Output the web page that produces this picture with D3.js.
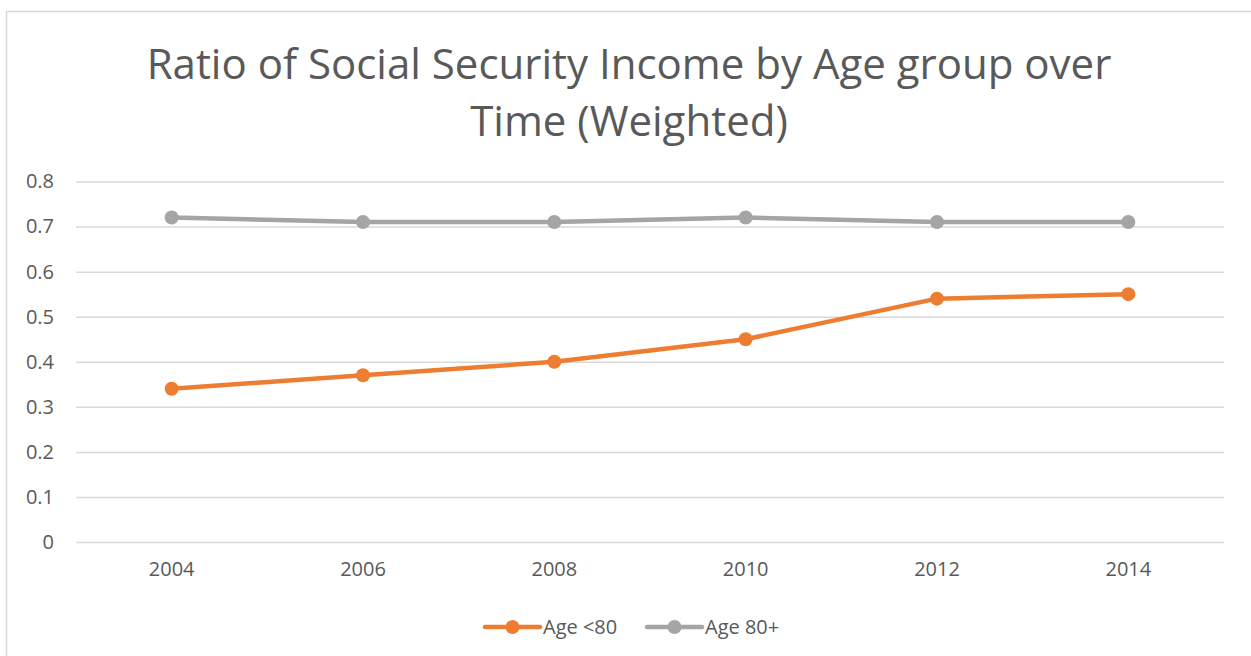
<!DOCTYPE html>
<html>
<head>
<meta charset="utf-8">
<script src="https://cdn.jsdelivr.net/npm/d3@7"></script>
<style>
  body { margin: 0; background: #fff; }
  text { font-family: "Open Sans", sans-serif; fill: #595959; }
</style>
</head>
<body>
<div id="chart-container"></div>
<script>
const years = ["2004", "2006", "2008", "2010", "2012", "2014"];
const under80 = [0.34, 0.37, 0.40, 0.45, 0.54, 0.55];
const over80 = [0.72, 0.71, 0.71, 0.72, 0.71, 0.71];
const yTicks = [0, 0.1, 0.2, 0.3, 0.4, 0.5, 0.6, 0.7, 0.8];
const seriesNames = ["Age <80", "Age 80+"];
const titleLines = ["Ratio of Social Security Income by Age group over", "Time (Weighted)"];

((() => {
  const width = 1251;
  const height = 656;
  const marginTop = 181.5;
  const marginBottom = 114;
  const marginLeft = 76;
  const marginRight = 27;
  const colors = ["#ED7D31", "#A5A5A5"];

  const series = [
    {name: seriesNames[0], values: under80, color: colors[0]},
    {name: seriesNames[1], values: over80, color: colors[1]}
  ];

  const x = d3.scaleBand()
    .domain(years)
    .range([marginLeft, width - marginRight]);

  const y = d3.scaleLinear()
    .domain([0, 0.8])
    .range([height - marginBottom, marginTop]);

  const svg = d3.create("svg")
    .attr("width", width)
    .attr("height", height)
    .attr("viewBox", [0, 0, width, height]);

  // chart border (only left and top are visible in the crop)
  svg.append("rect")
    .attr("x", 6.5).attr("y", 11.5)
    .attr("width", width + 20).attr("height", height + 20)
    .attr("fill", "none")
    .attr("stroke", "#d9d9d9")
    .attr("stroke-width", 1.5);

  // title
  const title = svg.append("text")
    .attr("text-anchor", "middle")
    .style("font-size", "42px");
  title.selectAll("tspan")
    .data(titleLines)
    .join("tspan")
    .attr("x", 629)
    .attr("y", (d, i) => 79 + i * 57)
    .text(d => d);

  // gridlines + y labels
  const yAxis = svg.append("g")
    .attr("transform", `translate(${marginLeft},0)`)
    .call(d3.axisLeft(y).tickValues(yTicks).tickFormat(d3.format("")).tickSize(-(width - marginLeft - marginRight)).tickPadding(22));
  yAxis.select(".domain").remove();
  yAxis.selectAll(".tick line").attr("stroke", "#d9d9d9").attr("stroke-width", 1.5);
  yAxis.selectAll(".tick text").style("font-size", "20px").attr("fill", "#595959");

  // x labels
  const xAxis = svg.append("g")
    .attr("transform", `translate(0,${height - marginBottom})`)
    .call(d3.axisBottom(x).tickSize(0).tickPadding(20));
  xAxis.select(".domain").remove();
  xAxis.selectAll(".tick text").style("font-size", "20px").attr("fill", "#595959");

  const line = d3.line()
    .x((d, i) => x(years[i]) + x.bandwidth() / 2)
    .y(d => y(d));

  series.forEach(s => {
    svg.append("path")
      .datum(s.values)
      .attr("fill", "none")
      .attr("stroke", s.color)
      .attr("stroke-width", 4.5)
      .attr("stroke-linejoin", "round")
      .attr("stroke-linecap", "round")
      .attr("d", line);
    svg.append("g")
      .attr("fill", s.color)
      .selectAll("circle")
      .data(s.values)
      .join("circle")
      .attr("cx", (d, i) => x(years[i]) + x.bandwidth() / 2)
      .attr("cy", d => y(d))
      .attr("r", 7);
  });

  // legend
  const legendX = [485, 647];
  const legend = svg.append("g")
    .selectAll("g")
    .data(series)
    .join("g")
    .attr("transform", (d, i) => `translate(${legendX[i]},627)`);
  legend.append("line")
    .attr("x1", 0).attr("x2", 55)
    .attr("stroke", d => d.color)
    .attr("stroke-width", 4.5)
    .attr("stroke-linecap", "round");
  legend.append("circle")
    .attr("cx", 27.5).attr("r", 7)
    .attr("fill", d => d.color);
  legend.append("text")
    .attr("x", 58)
    .attr("dy", "0.35em")
    .style("font-size", "20px")
    .text(d => d.name);

  d3.select("#chart-container").append(() => svg.node());
})());
</script>
</body>
</html>
